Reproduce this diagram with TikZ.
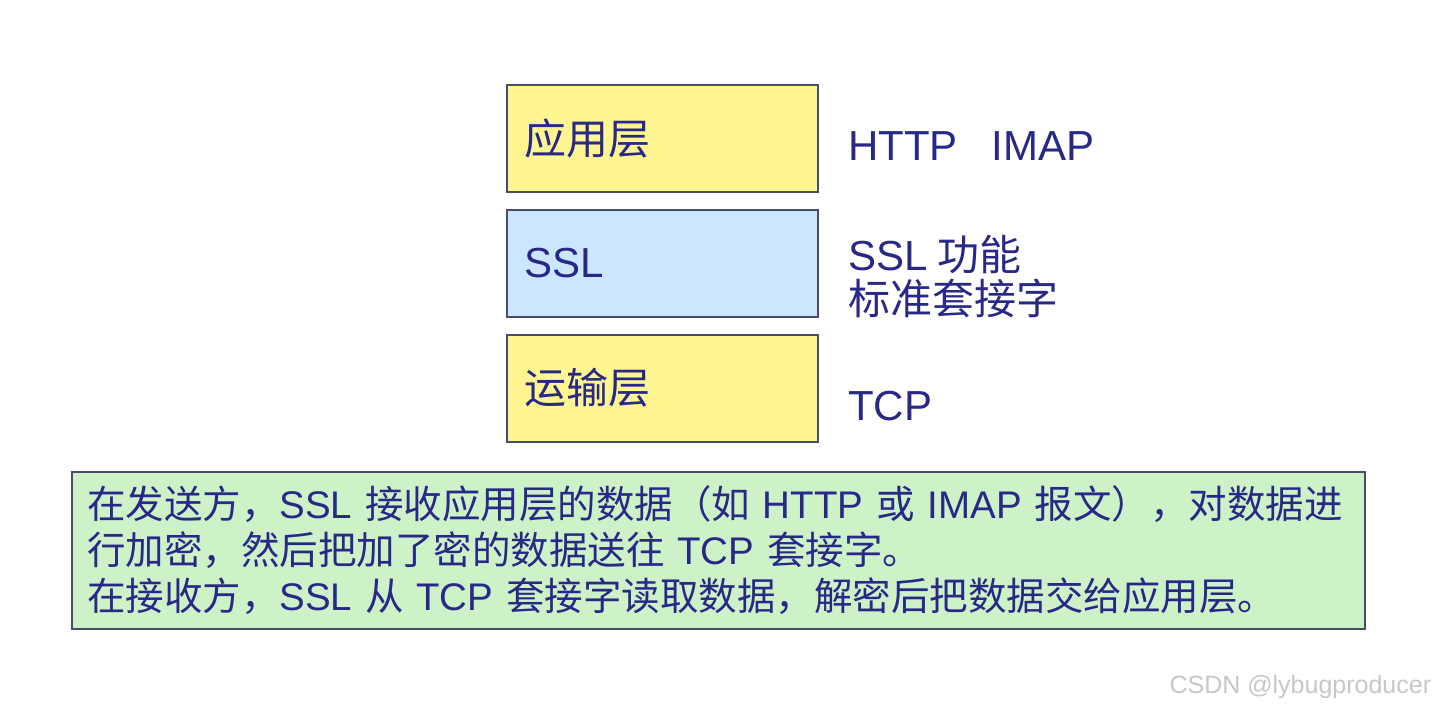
\documentclass[tikz,border=0pt]{standalone}
\usepackage{fontspec}
\setmainfont{Noto Sans CJK SC}
\newfontfamily\lat{Liberation Sans}
\newcommand\eng[1]{{\lat #1}}
\usetikzlibrary{positioning}
\definecolor{inkblue}{RGB}{40,40,135}
\definecolor{layeryellow}{RGB}{255,246,145}
\definecolor{layerblue}{RGB}{204,230,255}
\definecolor{notegreen}{RGB}{206,242,200}
\definecolor{edgegray}{RGB}{75,75,110}

\begin{document}
\begin{tikzpicture}[x=1pt, y=-1pt, every node/.style={text=inkblue},
	layer/.style={draw=edgegray, line width=1.8pt, minimum width=311pt, minimum height=107pt,
		text width=277pt, inner xsep=17pt, align=left, font=\fontsize{42}{46}\selectfont},
	proto/.style={anchor=base west, inner sep=0pt, font=\fontsize{42}{46}\selectfont},
	note/.style={draw=edgegray, line width=1.6pt, fill=notegreen, minimum width=1293pt, minimum height=157pt,
		text width=1263pt, inner xsep=15pt, align=left, font=\fontsize{38.5}{46}\selectfont}]
	\useasboundingbox (0,0) rectangle (1439,709);
	% protocol stack
	\node[layer, fill=layeryellow] (app) at (662.5,138.5) {应用层};
	\node[layer, fill=layerblue, below=16pt of app] (ssl) {\eng{SSL}};
	\node[layer, fill=layeryellow, below=16pt of ssl] (trans) {运输层};
	% what each layer offers
	\node[proto] (apptag) at (848,160) {\eng{HTTP\hspace{34pt}IMAP}};
	\node[proto] (ssltag) at (848,270) {\eng{SSL} 功能};
	\node[proto] (socktag) at (848,314) {标准套接字};
	\node[proto] (tcptag) at (848,420) {\eng{TCP}};
	% explanation
	\node[note] (note) at (718.5,550.5) {在发送方，\eng{SSL} 接收应用层的数据（如 \eng{HTTP} 或 \eng{IMAP} 报文），对数据进\\
		行加密，然后把加了密的数据送往 \eng{TCP} 套接字。\\
		在接收方，\eng{SSL} 从 \eng{TCP} 套接字读取数据，解密后把数据交给应用层。};
	\node[anchor=base west, text=black!22, font={\lat\fontsize{25}{25}\selectfont}] (mark) at (1166,693) {CSDN @lybugproducer};
\end{tikzpicture}
\end{document}
